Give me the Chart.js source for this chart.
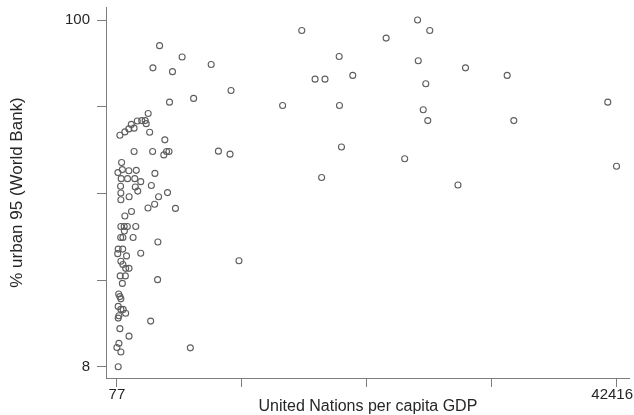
<!DOCTYPE html>
<html>
<head>
<meta charset="utf-8">
<script src="https://cdn.jsdelivr.net/npm/chart.js@4/dist/chart.umd.min.js"></script>
<style>
  html, body { margin: 0; padding: 0; background: #fff; }
  canvas { display: block; }
</style>
</head>
<body>
<canvas id="chart" width="634" height="415"></canvas>
<script>
// Per capita GDP (UN) against % urban population in 1995 (World Bank)
const gdpPerCapita = [
  15743, 25556, 26591, 22891, 18913, 25615, 29618, 16870, 17711, 20065, 26254, 33150,
  14120, 18938, 26036, 26422, 33713, 41676, 19107, 24463, 17425, 28979, 42416,
  3693, 5602, 3129, 4786, 8066, 9747, 6577, 4534, 8679, 9663, 10420, 6300,
  3525, 2936, 3550, 5038, 4366, 4139, 2852, 2726,
  329, 750, 1086, 1296, 1532, 1801, 2179, 2474, 2558, 1532, 3104, 4282, 4492, 4054,
  472, 161, 539, 1086, 1717, 3298, 439, 977, 1591, 2095, 388, 1633, 1843, 2995,
  413, 1111, 413, 3609,
  3272, 2709, 1313, 750, 413, 691, 960, 1675, 708, 397, 582, 1448,
  186, 565, 144, 2095, 893, 413, 582, 817, 1103, 354, 792, 539, 228, 329, 413,
  186, 413, 607, 817, 245, 186, 329, 1103, 245, 77, 413, 186
];
const urbanPct = [
  97.2, 100, 97.2, 95.2, 90.3, 89.2, 87.3, 84.3, 84.3, 85.3, 83.1, 85.3,
  77.3, 77.3, 76.2, 73.3, 73.3, 78.2, 66.3, 63.2, 58.2, 56.2, 61.2,
  93.2, 90.2, 87.3, 86.3, 88.2, 81.3, 79.2, 78.2, 65.2, 64.4, 36.1, 13.0,
  31.1, 20.1, 41.1, 50.0, 54.2, 68.2, 70.2, 75.2,
  69.4, 70.3, 71.1, 72.3, 71.3, 73.2, 73.3, 73.3, 72.5, 65.1, 65.1, 65.1, 65.1, 64.2,
  62.2, 59.5, 60.3, 60.0, 60.1, 59.3, 57.9, 57.9, 57.9, 57.1, 55.9, 55.7, 54.6, 56.1,
  54.1, 53.1, 52.3, 53.1,
  51.1, 50.1, 49.2, 48.0, 45.2, 45.2, 45.2, 45.2, 44.0, 42.3, 42.3, 42.3,
  39.2, 39.2, 38.0, 38.1, 37.4, 36.0, 35.1, 34.1, 34.1, 32.1, 32.1, 30.1, 27.3, 26.6, 26.0,
  24.0, 23.2, 23.2, 22.2, 21.5, 20.9, 18.1, 16.1, 14.2, 13.1, 11.9, 8
];

// Axis ticks: five evenly spaced marks, labels only at the range ends
const xTickValues = [77, 10661.75, 21246.5, 31831.25, 42416];
const xTickLabels = ['77', '', '', '', '42416'];
const yTickValues = [8, 31, 54, 77, 100];
const yTickLabels = ['8', '', '', '', '100'];

const xTitle = 'United Nations per capita GDP';
const yTitle = '% urban 95 (World Bank)';

const points = gdpPerCapita.map((g, i) => ({ x: g, y: urbanPct[i] }));

const FONT_FAMILY = '"Liberation Sans", Arial, Helvetica, sans-serif';
const AXIS_GREY = '#7d7d7d';
const TEXT_COLOR = '#262626';

// Tick labels are painted here so the last x label can be kept inside the canvas
const tickLabelPlugin = {
  id: 'tickLabels',
  afterDraw(chart) {
    const { ctx, scales: { x, y } } = chart;
    ctx.save();
    ctx.font = '15px ' + FONT_FAMILY;
    ctx.fillStyle = TEXT_COLOR;
    ctx.textBaseline = 'middle';

    ctx.textAlign = 'right';
    yTickValues.forEach((v, i) => {
      if (!yTickLabels[i]) return;
      ctx.fillText(yTickLabels[i], y.right - 16, y.getPixelForValue(v));
    });

    ctx.textAlign = 'center';
    const labelY = x.top + 17;
    xTickValues.forEach((v, i) => {
      const text = xTickLabels[i];
      if (!text) return;
      const w = ctx.measureText(text).width;
      let px = x.getPixelForValue(v);
      px = Math.min(px, chart.width - w / 2 - 1);
      px = Math.max(px, w / 2 + 1);
      ctx.fillText(text, px, labelY);
    });
    ctx.restore();
  }
};

new Chart(document.getElementById('chart'), {
  type: 'scatter',
  data: {
    datasets: [{
      data: points,
      pointStyle: 'circle',
      pointRadius: 3,
      pointHoverRadius: 3,
      pointBorderWidth: 1.1,
      borderColor: '#5e5e5e',
      backgroundColor: 'rgba(0,0,0,0)'
    }]
  },
  options: {
    responsive: false,
    animation: false,
    devicePixelRatio: 1,
    layout: { padding: { top: 7, right: 0, left: 0, bottom: 0 } },
    plugins: {
      legend: { display: false },
      tooltip: { enabled: false }
    },
    scales: {
      x: {
        type: 'linear',
        min: -848,
        max: 43551,
        afterBuildTicks(scale) { scale.ticks = xTickValues.map(v => ({ value: v })); },
        afterFit(scale) { scale.height = 37; },
        ticks: { display: false },
        grid: {
          display: true,
          drawOnChartArea: false,
          drawTicks: true,
          tickLength: 9,
          color: AXIS_GREY,
          lineWidth: 1
        },
        border: { display: true, color: AXIS_GREY, width: 1 },
        title: {
          display: true,
          text: xTitle,
          color: TEXT_COLOR,
          font: { family: FONT_FAMILY, size: 16, lineHeight: 1 },
          padding: 0
        }
      },
      y: {
        type: 'linear',
        min: 5.0,
        max: 103.45,
        afterBuildTicks(scale) { scale.ticks = yTickValues.map(v => ({ value: v })); },
        afterFit(scale) { scale.width = 106; },
        ticks: { display: false },
        grid: {
          display: true,
          drawOnChartArea: false,
          drawTicks: true,
          tickLength: 9,
          color: AXIS_GREY,
          lineWidth: 1
        },
        border: { display: true, color: AXIS_GREY, width: 1 },
        title: {
          display: true,
          text: yTitle,
          color: TEXT_COLOR,
          font: { family: FONT_FAMILY, size: 17, lineHeight: 1 },
          padding: { top: 9, bottom: 0 }
        }
      }
    }
  },
  plugins: [tickLabelPlugin]
});
</script>
</body>
</html>
